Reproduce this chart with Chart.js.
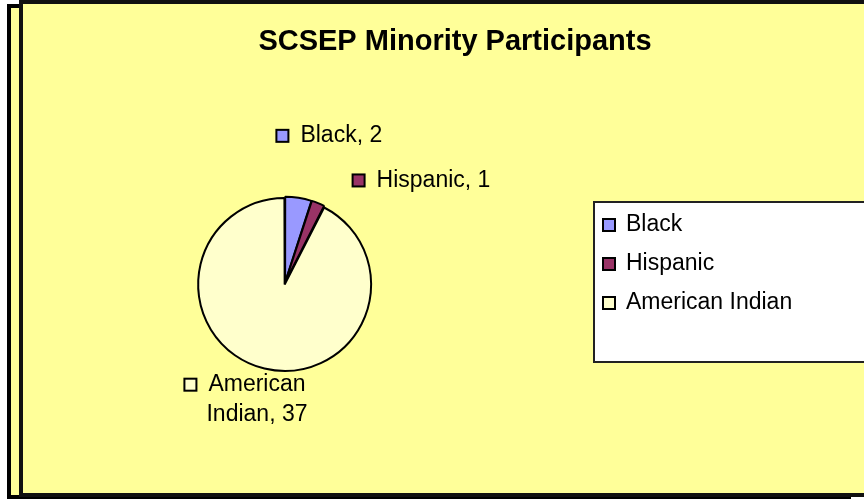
<!DOCTYPE html>
<html>
<head>
<meta charset="utf-8">
<script src="https://cdn.jsdelivr.net/npm/chart.js@4.4.0/dist/chart.umd.min.js"></script>
<style>
  html, body { margin: 0; padding: 0; background: #fff; }
  #wrap { width: 864px; height: 500px; position: relative; }
</style>
</head>
<body>
<div id="wrap"><canvas id="pieChart" width="864" height="500"></canvas></div>
<script>
// chart data
const chartTitle = 'SCSEP Minority Participants';
const categories = ['Black', 'Hispanic', 'American Indian'];
const participants = [2, 1, 37];
const sliceColors = ['#9999FF', '#993366', '#FFFFCC'];

const FONT = '"Liberation Sans", Arial, sans-serif';
// label placement: gap outside the rim, then a small sideways nudge
const labelGap = [64, 26, 35];
const labelNudge = [33, 106, 0];

// frame, background, title
const framePlugin = {
  id: 'frame',
  beforeDraw(chart) {
    const c = chart.ctx;
    c.save();
    c.fillStyle = '#fff';
    c.fillRect(0, 0, 864, 500);
    // back (shadow) box
    c.fillStyle = '#FFFF99';
    c.fillRect(9, 5, 840, 492);
    c.strokeStyle = '#000';
    c.lineWidth = 4;
    c.strokeRect(9, 6, 840, 491);
    // front box
    c.fillStyle = '#FFFF99';
    c.fillRect(21, 2, 843, 493);
    c.strokeStyle = '#111';
    c.lineWidth = 4;
    c.strokeRect(21, 2, 845, 493);
    // title
    c.fillStyle = '#000';
    c.font = 'bold 29px ' + FONT;
    c.textAlign = 'center';
    c.textBaseline = 'middle';
    c.fillText(chartTitle, 455, 42);
    c.restore();
  }
};

function drawKey(c, x, y, color) {
  c.fillStyle = color;
  c.fillRect(x, y - 6, 12, 12);
  c.strokeStyle = '#000';
  c.lineWidth = 2;
  c.strokeRect(x, y - 6, 12, 12);
}

// data labels and legend box
const labelPlugin = {
  id: 'sliceLabels',
  afterDatasetsDraw(chart) {
    const c = chart.ctx;
    const arcs = chart.getDatasetMeta(0).data;
    c.save();
    c.font = '23px ' + FONT;
    c.textBaseline = 'middle';
    arcs.forEach((arc, i) => {
      const p = arc.getProps(['x', 'y', 'startAngle', 'endAngle', 'outerRadius'], true);
      const mid = (p.startAngle + p.endAngle) / 2;
      const d = p.outerRadius + labelGap[i];
      const ax = p.x + Math.cos(mid) * d + labelNudge[i];
      const ay = p.y + Math.sin(mid) * d;
      const text = categories[i] + ', ' + participants[i];
      const words = text.split(' ');
      let lines = [text];
      if (c.measureText(text).width > 160) {
        lines = [words.slice(0, 1).join(' '), words.slice(1).join(' ')];
      }
      const lh = 30;
      lines.forEach((ln, j) => {
        const y = ay + (j - (lines.length - 1) / 2) * lh;
        c.fillStyle = '#000';
        c.textAlign = 'center';
        c.fillText(ln, ax, y);
        if (j === 0) {
          const w = c.measureText(ln).width;
          drawKey(c, ax - w / 2 - 24, y, sliceColors[i]);
        }
      });
    });

    // legend
    c.fillStyle = '#fff';
    c.fillRect(594, 202, 270, 160);
    c.strokeStyle = '#222';
    c.lineWidth = 2;
    c.beginPath();
    c.moveTo(864, 202); c.lineTo(594, 202); c.lineTo(594, 362); c.lineTo(864, 362);
    c.stroke();
    c.textAlign = 'left';
    categories.forEach((name, i) => {
      const y = 225 + i * 39;
      drawKey(c, 603, y, sliceColors[i]);
      c.fillStyle = '#000';
      c.fillText(name, 626, y);
    });
    c.restore();
  }
};

new Chart(document.getElementById('pieChart').getContext('2d'), {
  type: 'pie',
  data: {
    labels: categories,
    datasets: [{
      data: participants,
      backgroundColor: sliceColors,
      borderColor: '#000',
      borderWidth: 2,
      offset: [3, 3, 6]
    }]
  },
  options: {
    responsive: false,
    animation: false,
    layout: { padding: { left: 196, right: 490, top: 194, bottom: 128 } },
    plugins: {
      legend: { display: false },
      tooltip: { enabled: false }
    }
  },
  plugins: [framePlugin, labelPlugin]
});
</script>
</body>
</html>
